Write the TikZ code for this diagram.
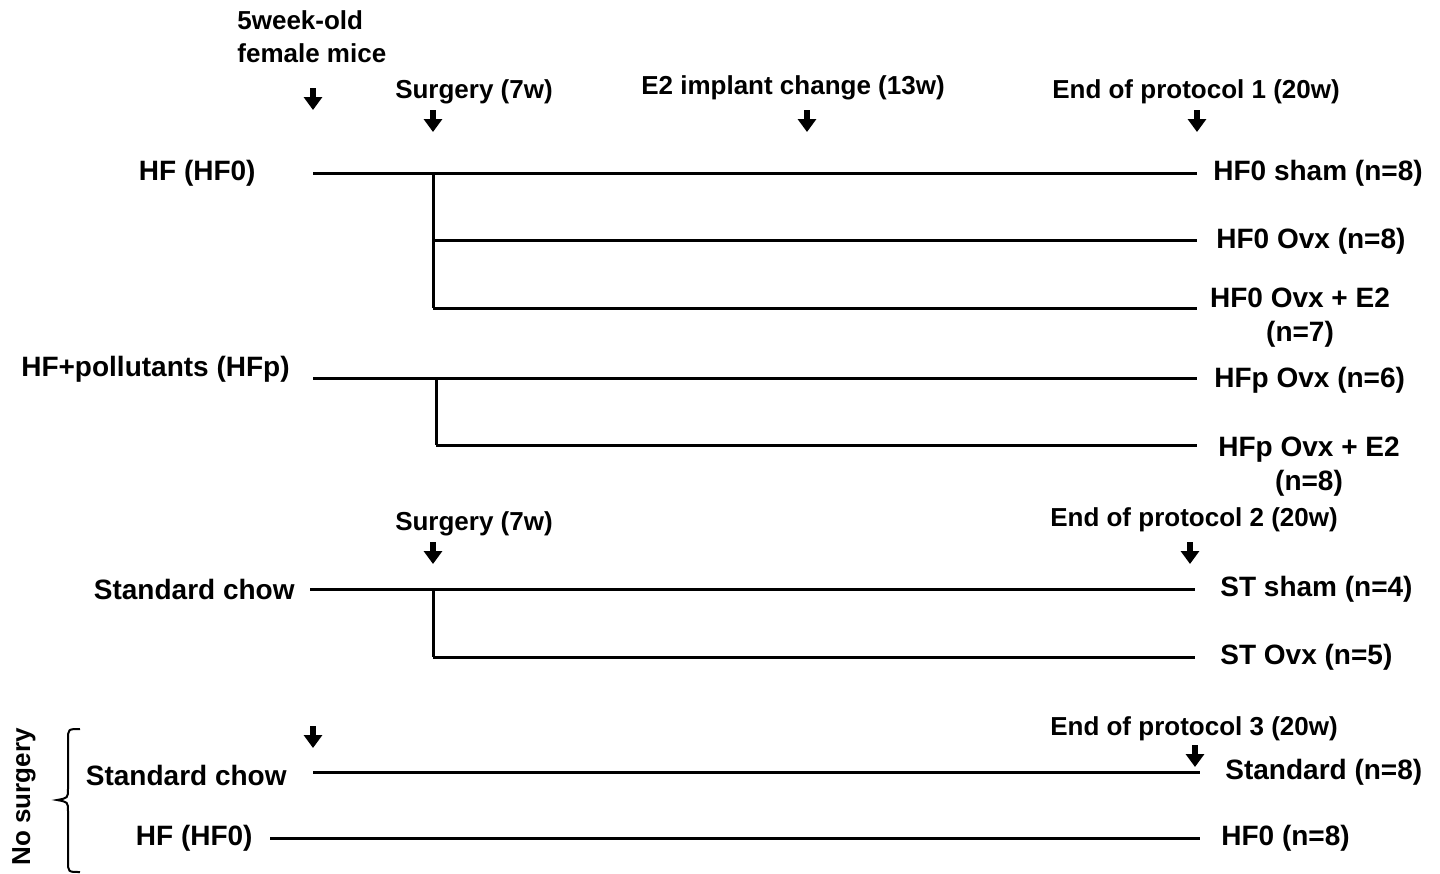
\documentclass[tikz,border=0pt]{standalone}
\usepackage{fontspec}
\setmainfont{Liberation Sans}
\usetikzlibrary{arrows.meta}

\begin{document}
\begin{tikzpicture}[x=0.5pt,y=-0.5pt,
  every node/.style={font=\fontsize{14}{17}\selectfont\bfseries, inner sep=0pt},
  event/.style={font=\fontsize{13}{16.5}\selectfont\bfseries},
  timeline/.style={line width=1.5pt},
  timepoint/.style={line width=3pt, -{Triangle[length=6.5pt,width=9pt]}},
  group/.style={anchor=east},
  outcome/.style={anchor=west}]
\useasboundingbox (0,0) rectangle (1440,873);

% Protocol 1 and time points
\node[event, anchor=west, align=left] (start) at (237,37) {5week-old\\female mice};
\node[event] (surg1) at (474,92) {Surgery (7w)};
\node[event] (implant) at (793,88) {E2 implant change (13w)};
\node[event] (end1) at (1196,92) {End of protocol 1 (20w)};
\draw[timepoint] (313,88) -- (313,110);
\draw[timepoint] (433,110) -- (433,132);
\draw[timepoint] (807,110) -- (807,132);
\draw[timepoint] (1197,110) -- (1197,132);

\node[group] (hf0) at (256,173) {HF (HF0)};
\draw[timeline] (313,173) -- (1197,173);
\draw[timeline] (433,173) -- (433,308);
\draw[timeline] (433,240) -- (1197,240);
\draw[timeline] (433,308) -- (1197,308);
\node[outcome] (hf0sham) at (1213,173) {HF0 sham (n=8)};
\node[outcome] (hf0ovx) at (1216,241) {HF0 Ovx (n=8)};
\node[align=center] (hf0ovxe) at (1300,318) {HF0 Ovx + E2\\(n=7)};

\node[group] (hfp) at (290,369) {HF+pollutants (HFp)};
\draw[timeline] (313,378) -- (1197,378);
\draw[timeline] (436,378) -- (436,445);
\draw[timeline] (436,445) -- (1197,445);
\node[outcome] (hfpovx) at (1214,380) {HFp Ovx (n=6)};
\node[align=center] (hfpovxe) at (1309,467) {HFp Ovx + E2\\(n=8)};

% Protocol 2
\node[event] (surg2) at (474,524) {Surgery (7w)};
\node[event] (end2) at (1194,520) {End of protocol 2 (20w)};
\draw[timepoint] (433,542) -- (433,564);
\draw[timepoint] (1190,542) -- (1190,564);
\node[group] (chow) at (295,589) {Standard chow};
\draw[timeline] (310,589) -- (1195,589);
\draw[timeline] (433,589) -- (433,657);
\draw[timeline] (433,657) -- (1195,657);
\node[outcome] (stsham) at (1220,589) {ST sham (n=4)};
\node[outcome] (stovx) at (1220,657) {ST Ovx (n=5)};

% Protocol 3, no surgery
\node[event] (end3) at (1194,729) {End of protocol 3 (20w)};
\draw[timepoint] (313,726) -- (313,748);
\draw[timepoint] (1195,745) -- (1195,767);
\node[group] (chow3) at (287,775) {Standard chow};
\draw[timeline] (313,772) -- (1200,772);
\node[outcome] (std) at (1225,772) {Standard (n=8)};
\node[group] (hf3) at (253,838) {HF (HF0)};
\draw[timeline] (270,838) -- (1200,838);
\node[outcome] (hf0only) at (1221,838) {HF0 (n=8)};

\draw[line width=1pt] (80,729) .. controls (68,729) .. (68,740) -- (68,789)
  .. controls (68,798) .. (57,800) .. controls (68,802) .. (68,811)
  -- (68,861) .. controls (68,872) .. (80,872);
\node[event, rotate=90] (nosurg) at (24,797) {No surgery};
\end{tikzpicture}
\end{document}
